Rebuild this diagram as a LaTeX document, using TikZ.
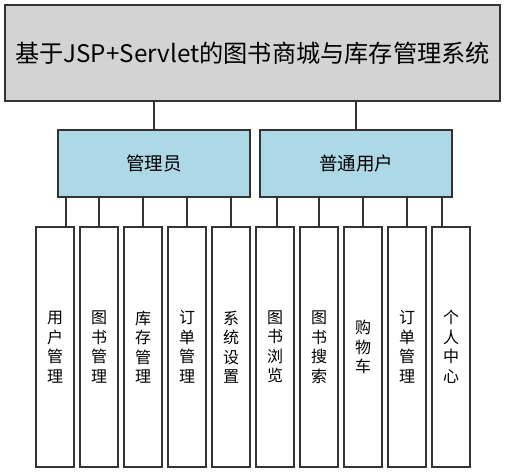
\documentclass[tikz,border=0pt]{standalone}
\usepackage{fontspec}
\setmainfont{Noto Sans CJK SC}
\definecolor{titlegray}{HTML}{D3D3D3}
\definecolor{roleblue}{HTML}{ADD8E6}
\definecolor{edge}{HTML}{333333}
\begin{document}
\begin{tikzpicture}[x=1pt,y=-1pt,
  box/.style={draw=edge, line width=1.3pt, inner sep=0pt, outer sep=0pt, anchor=center},
  titlebox/.style={box, fill=titlegray, minimum width=495pt, minimum height=96pt, font=\fontsize{24.2}{28}\selectfont},
  rolebox/.style={box, fill=roleblue, minimum width=192pt, minimum height=67pt, font=\fontsize{18.5}{22}\selectfont},
  leafbox/.style={box, fill=white, minimum width=38pt, minimum height=240pt, align=center, font=\fontsize{16}{19.5}\selectfont},
  link/.style={draw=edge, line width=1.3pt}
]
\useasboundingbox (0,0) rectangle (505,473);
\node[titlebox] (title) at (252.5,53) {基于JSP+Servlet的图书商城与库存管理系统};
\node[rolebox] (admin) at (154,163.5) {管理员};
\node[rolebox] (user) at (356,163.5) {普通用户};
\node[leafbox] (a1) at (55,347) {用\\户\\管\\理};
\node[leafbox] (a2) at (99,347) {图\\书\\管\\理};
\node[leafbox] (a3) at (143,347) {库\\存\\管\\理};
\node[leafbox] (a4) at (187,347) {订\\单\\管\\理};
\node[leafbox] (a5) at (231,347) {系\\统\\设\\置};
\node[leafbox] (u1) at (275,347) {图\\书\\浏\\览};
\node[leafbox] (u2) at (319,347) {图\\书\\搜\\索};
\node[leafbox] (u3) at (363,347) {购\\物\\车};
\node[leafbox] (u4) at (407,347) {订\\单\\管\\理};
\node[leafbox] (u5) at (451,347) {个\\人\\中\\心};
\draw[link] (title.south -| admin.north) -- (admin.north);
\draw[link] (title.south -| user.north) -- (user.north);
\foreach \n/\o in {a1/11,a2/0,a3/0,a4/0,a5/0}{
  \draw[link] ([xshift=\o pt]\n.north) -- ([xshift=\o pt]\n.north |- admin.south);
}
\foreach \n/\o in {u1/2,u2/0,u3/0,u4/0,u5/-9}{
  \draw[link] ([xshift=\o pt]\n.north) -- ([xshift=\o pt]\n.north |- user.south);
}
\end{tikzpicture}
\end{document}
